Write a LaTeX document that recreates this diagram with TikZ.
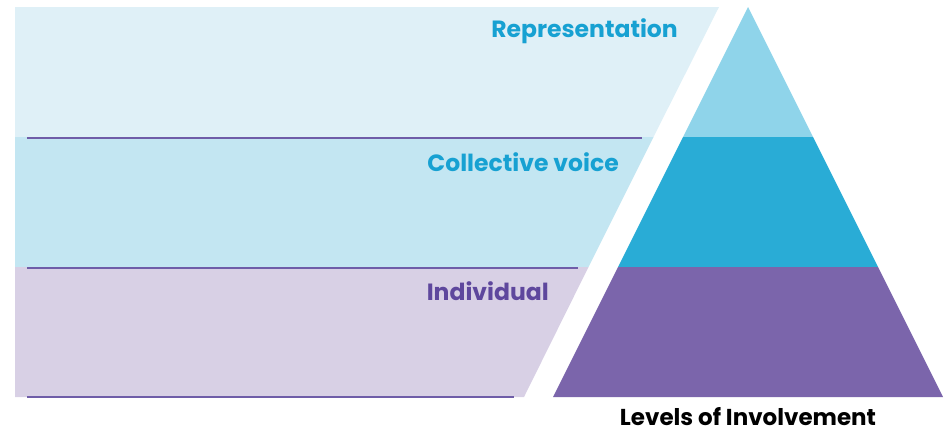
\documentclass[tikz,border=0pt]{standalone}
\usepackage{fontspec}
\setmainfont{Poppins}
\definecolor{bandA}{HTML}{DFF0F7}
\definecolor{bandB}{HTML}{C3E6F2}
\definecolor{bandC}{HTML}{D8D0E5}
\definecolor{pyrA}{HTML}{8FD4EA}
\definecolor{pyrB}{HTML}{29ACD6}
\definecolor{pyrC}{HTML}{7B65AB}
\definecolor{txtblue}{HTML}{17A1D2}
\definecolor{txtpurple}{HTML}{5E479D}
\definecolor{rulecol}{HTML}{6F5DA8}
\begin{document}
\begin{tikzpicture}[x=1pt,y=-1pt,
  lbl/.style={font=\fontsize{23.5}{26}\selectfont\bfseries, anchor=base east, inner sep=0pt},
  rule/.style={draw=rulecol, line width=1.6pt}]
\useasboundingbox (0,0) rectangle (945,432);
% left panel bands (slanted right edge from (719,7) to (524,397))
\fill[bandA] (15,7) -- (719,7) -- (653.5,137) -- (15,137) -- cycle;
\fill[bandB] (15,137) -- (653.5,137) -- (588.5,267) -- (15,267) -- cycle;
\fill[bandC] (15,267) -- (588.5,267) -- (524,397) -- (15,397) -- cycle;
% pyramid
\fill[pyrA] (748,7) -- (813,137) -- (683,137) -- cycle;
\fill[pyrB] (683,137) -- (813,137) -- (878,267) -- (618,267) -- cycle;
\fill[pyrC] (618,267) -- (878,267) -- (943,397) -- (553,397) -- cycle;
% rules
\coordinate (r1a) at (27,138); \coordinate (r1b) at (642,138);
\coordinate (r2a) at (27,268); \coordinate (r2b) at (578,268);
\coordinate (r3a) at (27,397); \coordinate (r3b) at (514,397);
\draw[rule] (r1a) -- (r1b);
\draw[rule] (r2a) -- (r2b);
\draw[rule] (r3a) -- (r3b);
% labels
\node[lbl, text=txtblue] (rep) at (678,37) {Representation};
\node[lbl, text=txtblue] (col) at (619,171) {Collective voice};
\node[lbl, text=txtpurple] (ind) at (549,300) {Individual};
\node[font=\fontsize{23}{26}\selectfont\bfseries, anchor=base, inner sep=0pt] (lev) at (748,425) {Levels of Involvement};
\end{tikzpicture}
\end{document}
